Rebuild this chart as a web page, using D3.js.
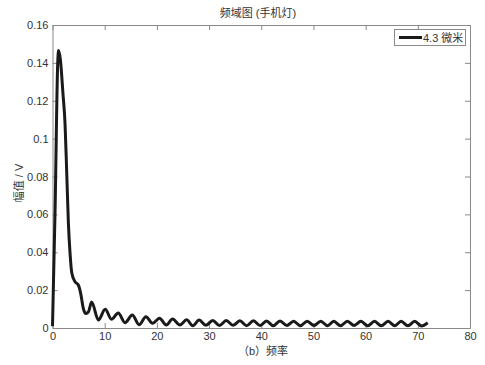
<!DOCTYPE html>
<html>
<head>
<meta charset="utf-8">
<script src="https://cdn.jsdelivr.net/npm/d3@7/dist/d3.min.js"></script>
<style>
  html, body { margin: 0; padding: 0; background: #fff; }
  svg { display: block; }
  text { font-family: "Liberation Sans", Arial, "Noto Sans CJK SC", sans-serif; fill: #333; }
</style>
</head>
<body>
<svg id="chart" width="485" height="365"></svg>
<script>
// Frequency-domain amplitude spectrum (flashlight source)
const freq = [0, 0.5, 1.0, 1.15, 1.5, 2.0, 2.4, 2.75, 3.05, 3.35,
  3.7, 4.3, 4.95, 5.4, 5.9, 6.4, 6.9, 7.5,
  8.8, 10.1, 11.3, 12.6, 13.9, 15.3, 16.6, 17.9, 19.2, 20.5,
  21.8, 23.0, 24.4, 25.7, 26.9, 28.1, 29.4, 30.7, 32.0, 33.3,
  34.6, 35.9, 37.2, 38.5, 39.8, 41.0, 42.3, 43.6, 44.9, 46.2,
  47.5, 48.8, 50.1, 51.4, 52.7, 53.9, 55.2, 56.5, 57.8, 59.1,
  60.4, 61.7, 63.0, 64.3, 65.6, 66.8, 68.1, 69.4, 70.7, 71.9];

const amplitude = [0.001, 0.063, 0.140, 0.1465, 0.142, 0.124, 0.108, 0.080, 0.055, 0.040,
  0.029, 0.0245, 0.0227, 0.0183, 0.0104, 0.0076, 0.0086, 0.0137,
  0.0042, 0.0099, 0.0046, 0.0079, 0.0028, 0.0068, 0.0017, 0.0059, 0.0025, 0.0051,
  0.0016, 0.0047, 0.0016, 0.0043, 0.0012, 0.0042, 0.0014, 0.0040, 0.0013, 0.0039,
  0.0014, 0.0038, 0.0012, 0.0038, 0.0013, 0.0037, 0.0012, 0.0037, 0.0013, 0.0036,
  0.0012, 0.0036, 0.0013, 0.0036, 0.0012, 0.0035, 0.0012, 0.0036, 0.0013, 0.0035,
  0.0012, 0.0035, 0.0012, 0.0035, 0.0012, 0.0035, 0.0012, 0.0035, 0.0011, 0.0028];

const xTicks = [0, 10, 20, 30, 40, 50, 60, 70, 80];
const yTicks = [0, 0.02, 0.04, 0.06, 0.08, 0.1, 0.12, 0.14, 0.16];
const yTickLabels = ["0", "0.02", "0.04", "0.06", "0.08", "0.1", "0.12", "0.14", "0.16"];

const titleText = "频域图 (手机灯)";
const xLabel = "（b）频率";
const yLabel = "幅值 / V";
const seriesName = "4.3 微米";

const margin = { left: 52.5, right: 15, top: 25, bottom: 37 };
const W = 485, H = 365;
const svg = d3.select("#chart");

const x = d3.scaleLinear().domain([0, 80]).range([margin.left, W - margin.right]);
const y = d3.scaleLinear().domain([0, 0.16]).range([H - margin.bottom, margin.top]);

const frameColor = "#8a8a8a";

// axes with inward ticks on all four sides
const gB = svg.append("g").attr("transform", `translate(0,${y(0)})`)
  .call(d3.axisBottom(x).tickValues(xTicks).tickSizeInner(-5).tickSizeOuter(0).tickPadding(4));
const gT = svg.append("g").attr("transform", `translate(0,${y(0.16)})`)
  .call(d3.axisTop(x).tickValues(xTicks).tickSizeInner(-5).tickSizeOuter(0).tickFormat(""));
const gL = svg.append("g").attr("transform", `translate(${x(0)},0)`)
  .call(d3.axisLeft(y).tickValues(yTicks).tickSizeInner(-5).tickSizeOuter(0).tickPadding(4)
    .tickFormat((d, i) => yTickLabels[i]));
const gR = svg.append("g").attr("transform", `translate(${x(80)},0)`)
  .call(d3.axisRight(y).tickValues(yTicks).tickSizeInner(-5).tickSizeOuter(0).tickFormat(""));

[gB, gT, gL, gR].forEach(g => {
  g.select(".domain").attr("stroke", frameColor);
  g.selectAll(".tick line").attr("stroke", frameColor);
  g.selectAll(".tick text").attr("font-size", 11).attr("fill", "#333")
    .attr("font-family", "Liberation Sans, Arial, sans-serif");
});

// spectrum line
const line = d3.line()
  .x((d, i) => x(freq[i]))
  .y(d => y(d))
  .curve(d3.curveMonotoneX);

svg.append("path")
  .datum(amplitude)
  .attr("fill", "none")
  .attr("stroke", "#1a1a1a")
  .attr("stroke-width", 3)
  .attr("stroke-linejoin", "round")
  .attr("d", line);

// title and axis labels
svg.append("text").attr("x", 258).attr("y", 17).attr("text-anchor", "middle")
  .attr("font-size", 11).text(titleText);
svg.append("text").attr("x", 263).attr("y", 355).attr("text-anchor", "middle")
  .attr("font-size", 11).text(xLabel);
svg.append("text").attr("transform", "translate(23,183) rotate(-90)")
  .attr("text-anchor", "middle").attr("font-size", 11).text(yLabel);

// legend
const lg = svg.append("g");
lg.append("rect").attr("x", 394.5).attr("y", 29.5).attr("width", 71).attr("height", 16)
  .attr("fill", "#fff").attr("stroke", frameColor);
lg.append("line").attr("x1", 399).attr("x2", 422).attr("y1", 37.5).attr("y2", 37.5)
  .attr("stroke", "#1a1a1a").attr("stroke-width", 3);
lg.append("text").attr("x", 423).attr("y", 41.5).attr("font-size", 11).text(seriesName);
</script>
</body>
</html>
